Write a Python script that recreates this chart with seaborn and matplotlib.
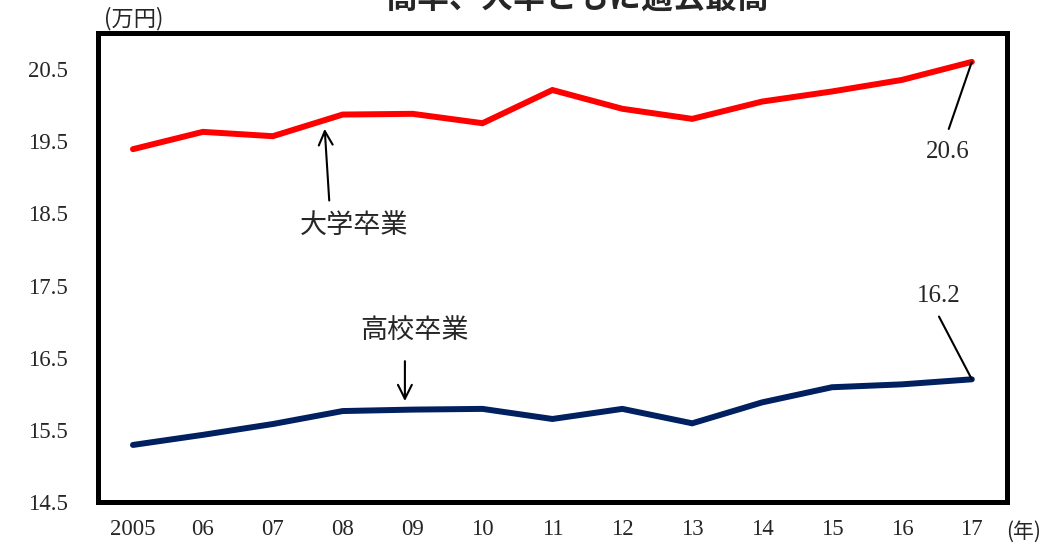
import matplotlib
matplotlib.use("Agg")
import matplotlib.pyplot as plt
import numpy as np
import pandas as pd
import seaborn as sns

# Data (万円)
YEARS = ["2005", "06", "07", "08", "09", "10", "11", "12", "13", "14", "15", "16", "17"]
UNIV = [19.39, 19.63, 19.57, 19.87, 19.88, 19.75, 20.21, 19.95, 19.81, 20.05, 20.19, 20.35, 20.6]
HIGH = [15.29, 15.43, 15.58, 15.76, 15.78, 15.79, 15.65, 15.79, 15.59, 15.88, 16.09, 16.13, 16.2]
SERIES = ["大学卒業", "高校卒業"]
YTICKS = [14.5, 15.5, 16.5, 17.5, 18.5, 19.5, 20.5]

JP = ["Noto Sans CJK JP", "DejaVu Sans"]
NUM = ["Liberation Serif", "DejaVu Serif"]

sns.set_style("white")
plt.rcParams["font.family"] = JP

df = pd.DataFrame({
    "year": YEARS * 2,
    "value": UNIV + HIGH,
    "series": [SERIES[0]] * len(YEARS) + [SERIES[1]] * len(YEARS),
})

fig = plt.figure(figsize=(10.62, 5.45), dpi=100)
ax = fig.add_axes([0.0923, 0.079, 0.8557, 0.8604])

sns.lineplot(
    data=df, x="year", y="value", hue="series",
    palette={SERIES[0]: "#FF0000", SERIES[1]: "#002060"},
    linewidth=4.3, legend=False, ax=ax,
    solid_joinstyle="miter", solid_capstyle="round",
)

n = len(YEARS)
ax.set_xlim(-0.5, n - 0.5)
ax.set_ylim(14.5, 21.0)

# x axis: labels at categories, tick marks between them
ax.set_xticks(range(n))
ax.set_xticklabels(YEARS, fontfamily=NUM, fontsize=16.5)
ax.set_xticks(np.arange(0.5, n - 1, 1), minor=True)
ax.tick_params(axis="x", which="major", length=0, pad=12)
ax.tick_params(axis="x", which="minor", length=7, width=1.2, direction="in", color="black")

ax.set_yticks(YTICKS)
ax.set_yticklabels([f"{v:.1f}" for v in YTICKS], fontfamily=NUM, fontsize=16.5)
ax.tick_params(axis="y", length=7, width=1.2, direction="in", pad=22, color="black")
ax.set_xlabel("")
ax.set_ylabel("")

for s in ax.spines.values():
    s.set_visible(True)
    s.set_color("black")
    s.set_linewidth(3.6)

# series labels with arrows
ax.annotate("", xy=(2.74, 19.71), xytext=(2.81, 18.64),
            arrowprops=dict(arrowstyle="->", lw=1.5, color="black", mutation_scale=25))
ax.text(3.17, 18.33, SERIES[0], ha="center", va="center", fontsize=19.5, family=JP)

ax.annotate("", xy=(3.89, 15.86), xytext=(3.89, 16.49),
            arrowprops=dict(arrowstyle="->", lw=1.5, color="black", mutation_scale=25))
ax.text(4.03, 16.86, SERIES[1], ha="center", va="center", fontsize=19.5, family=JP)

# end value labels with leader lines
last = n - 1
ax.annotate("", xy=(last, UNIV[-1]), xytext=(11.67, 19.67),
            arrowprops=dict(arrowstyle="-", lw=1.5, color="black", shrinkA=0, shrinkB=0))
ax.text(11.66, 19.35, f"{UNIV[-1]:.1f}", ha="center", va="center", fontsize=18, family=NUM)

ax.annotate("", xy=(last, HIGH[-1]), xytext=(11.53, 17.07),
            arrowprops=dict(arrowstyle="-", lw=1.5, color="black", shrinkA=0, shrinkB=0))
ax.text(11.53, 17.36, f"{HIGH[-1]:.1f}", ha="center", va="center", fontsize=18, family=NUM)

# unit labels and (clipped) title
fig.text(134 / 1062, 1 - 19 / 545, "(万円)", ha="center", va="center", fontsize=16, family=JP)
fig.text(1024 / 1062, 1 - 532 / 545, "(年)", ha="center", va="center", fontsize=15, family=JP)
fig.text(577 / 1062, 1 - 8 / 545, "高卒、大卒ともに過去最高", ha="center", va="baseline",
         fontsize=23, fontweight="bold", family=JP)

fig.savefig("out.png", dpi=100)
